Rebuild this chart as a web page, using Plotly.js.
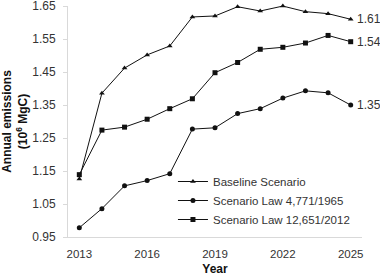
<!DOCTYPE html>
<html><head><meta charset="utf-8">
<script src="https://cdn.plot.ly/plotly-3.0.1.min.js"></script>
<style>html,body{margin:0;padding:0;background:#fff}#c{width:380px;height:276px}</style>
</head><body><div id="c"></div>
<script>
const years = [2013,2014,2015,2016,2017,2018,2019,2020,2021,2022,2023,2024,2025];
const baseline = [1.126,1.386,1.462,1.502,1.529,1.617,1.620,1.648,1.635,1.650,1.633,1.627,1.610];
const law4771 = [0.978,1.036,1.105,1.121,1.142,1.277,1.281,1.324,1.339,1.371,1.393,1.387,1.350];
const law12651 = [1.139,1.274,1.283,1.307,1.339,1.369,1.448,1.479,1.519,1.525,1.538,1.561,1.542];
const seriesNames = ["Baseline Scenario","Scenario Law 4,771/1965","Scenario Law 12,651/2012"];
const endLabels = ["1.61","1.35","1.54"];
const xTicks = [2013,2016,2019,2022,2025];
const yTicks = [0.95,1.05,1.15,1.25,1.35,1.45,1.55,1.65];
const yTickText = ["0.95","1.05","1.15","1.25","1.35","1.45","1.55","1.65"];

const font = "Liberation Sans, Arial, sans-serif";
const mk = (y, name, sym, size) => ({
  x: years, y: y, name: name, type: 'scatter', mode: 'lines+markers',
  line: {color: '#111', width: 1},
  marker: {symbol: sym, size: size, color: '#111'},
  cliponaxis: false
});
const data = [
  mk(baseline, seriesNames[0], 'triangle-up', 5),
  mk(law4771, seriesNames[1], 'circle', 5),
  mk(law12651, seriesNames[2], 'square', 5)
];
const lastVals = [baseline[12], law4771[12], law12651[12]];
const annotations = lastVals.map((v, i) => ({
  x: years[12], y: v, xref: 'x', yref: 'y', text: endLabels[i],
  showarrow: false, xanchor: 'left', xshift: 4,
  font: {family: font, size: 12, color: '#333'}
}));
const layout = {
  width: 380, height: 276,
  margin: {l: 68, r: 18, t: 6, b: 39},
  paper_bgcolor: '#fff', plot_bgcolor: '#fff',
  font: {family: font, size: 11, color: '#333'},
  showlegend: true,
  legend: {x: 0.357, y: 0.303, xanchor: 'left', yanchor: 'top',
    bgcolor: 'rgba(0,0,0,0)', font: {family: font, size: 11.5, color: '#333'},
    tracegroupgap: 0},
  xaxis: {range: [2012.5, 2025.5], tickmode: 'array', tickvals: xTicks,
    showgrid: false, zeroline: false, showline: true, linecolor: '#d9d9d9', linewidth: 1,
    ticks: '', ticklabelstandoff: 6, ticklabeloverflow: 'allow', tickfont: {size: 11.5, color: '#333'},
    title: {text: '<b>Year</b>', font: {size: 12, color: '#111'}, standoff: 13}},
  yaxis: {range: [0.95, 1.6502], tickmode: 'array', tickvals: yTicks, ticktext: yTickText,
    showgrid: false, zeroline: false, showline: true, linecolor: '#d9d9d9', linewidth: 1,
    ticks: 'outside', ticklen: 4, tickcolor: '#d9d9d9', ticklabelstandoff: 5,
    ticklabeloverflow: 'allow',
    tickfont: {size: 12, color: '#333'},
    title: {text: '<b>Annual emissions<br>(10<sup>6</sup> MgC)</b>', font: {size: 12, color: '#111'}, standoff: 6}},
  annotations: annotations
};
Plotly.newPlot('c', data, layout, {staticPlot: true, displayModeBar: false});
</script></body></html>
